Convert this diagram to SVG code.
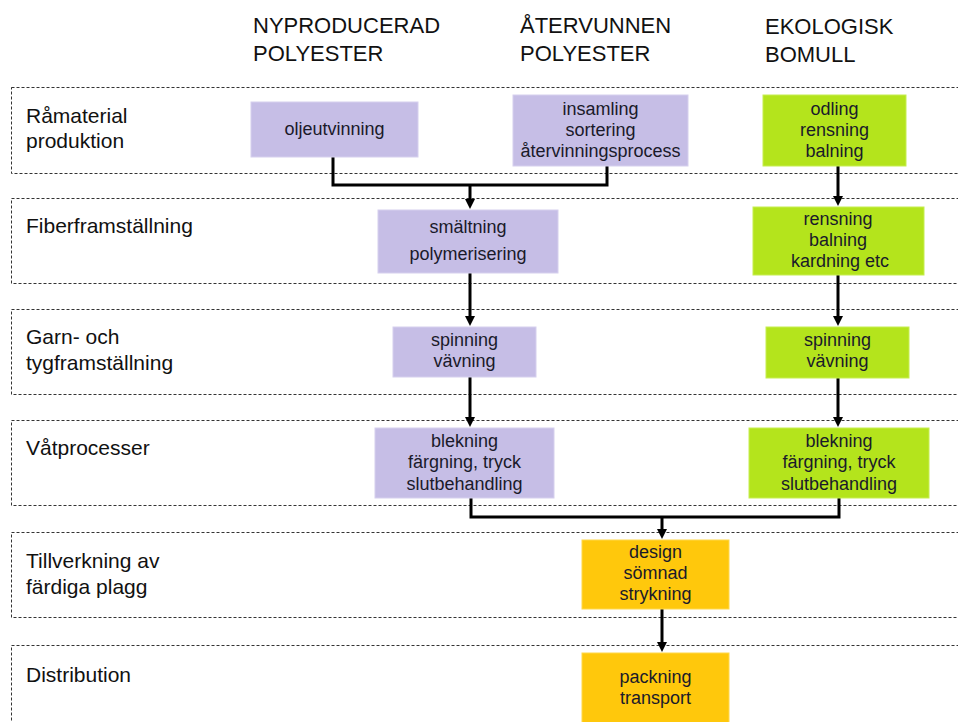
<svg xmlns="http://www.w3.org/2000/svg" width="958" height="722" viewBox="0 0 958 722">
<style>
.row{fill:none;stroke:#333;stroke-width:1;stroke-dasharray:3,2}
.lbl{font-family:"Liberation Sans",Arial,sans-serif;font-size:21px;fill:#111}
.hdr{font-family:"Liberation Sans",Arial,sans-serif;font-size:22px;fill:#111}
.bt{font-family:"Liberation Sans",Arial,sans-serif;font-size:18px;fill:#1a1a2a;text-anchor:middle}
.pur{fill:#c6bee6;stroke:#d6d0ee;stroke-width:1}
.grn{fill:#b4e41c;stroke:#c6ee50;stroke-width:1}
.org{fill:#ffc80c;stroke:#ffd84a;stroke-width:1}
.c{fill:none;stroke:#000;stroke-width:3}
</style>
<defs>
<marker id="ah" markerUnits="userSpaceOnUse" markerWidth="10" markerHeight="10" refX="2" refY="5" orient="auto">
<path d="M0,0 L10,5 L0,10 z" fill="#000"/>
</marker>
</defs>
<rect width="958" height="722" fill="#fff"/>
<g id="headers">
<text class="hdr" x="253" y="33">NYPRODUCERAD</text>
<text class="hdr" x="253" y="61">POLYESTER</text>
<text class="hdr" x="520" y="33">ÅTERVUNNEN</text>
<text class="hdr" x="520" y="61">POLYESTER</text>
<text class="hdr" x="765" y="34">EKOLOGISK</text>
<text class="hdr" x="765" y="62">BOMULL</text>
</g>
<g id="rows">
<g id="row1"><rect class="row" x="11.5" y="87.5" width="960" height="86"/><text class="lbl" x="26" y="123">Råmaterial</text><text class="lbl" x="26" y="148">produktion</text></g>
<g id="row2"><rect class="row" x="11.5" y="198.5" width="960" height="85"/><text class="lbl" x="26" y="233">Fiberframställning</text></g>
<g id="row3"><rect class="row" x="11.5" y="309.5" width="960" height="85"/><text class="lbl" x="26" y="344">Garn- och</text><text class="lbl" x="26" y="370">tygframställning</text></g>
<g id="row4"><rect class="row" x="11.5" y="420.5" width="960" height="85"/><text class="lbl" x="26" y="455">Våtprocesser</text></g>
<g id="row5"><rect class="row" x="11.5" y="532.5" width="960" height="85"/><text class="lbl" x="26" y="568">Tillverkning av</text><text class="lbl" x="26" y="594">färdiga plagg</text></g>
<g id="row6"><rect class="row" x="11.5" y="645.5" width="960" height="100"/><text class="lbl" x="26" y="682">Distribution</text></g>
</g>
<g id="connectors">
<path class="c" d="M333,157 V185 H607 V166"/>
<path class="c" d="M470,185 V201" marker-end="url(#ah)"/>
<path class="c" d="M838,166 V198" marker-end="url(#ah)"/>
<path class="c" d="M470,273 V318" marker-end="url(#ah)"/>
<path class="c" d="M838,275 V318" marker-end="url(#ah)"/>
<path class="c" d="M470,377 V419" marker-end="url(#ah)"/>
<path class="c" d="M838,378 V419" marker-end="url(#ah)"/>
<path class="c" d="M471,498 V517 H839 V498"/>
<path class="c" d="M662,517 V531" marker-end="url(#ah)"/>
<path class="c" d="M662,609 V644" marker-end="url(#ah)"/>
</g>
<g id="n-olje"><rect class="pur" x="251" y="102" width="167" height="55"/><text class="bt" x="334.5" y="135">oljeutvinning</text></g>
<g id="n-insamling"><rect class="pur" x="513" y="95" width="175" height="71"/><text class="bt" x="600.5" y="115">insamling</text><text class="bt" x="600.5" y="136">sortering</text><text class="bt" x="600.5" y="157">återvinningsprocess</text></g>
<g id="n-odling"><rect class="grn" x="763" y="95" width="143" height="71"/><text class="bt" x="834.5" y="115">odling</text><text class="bt" x="834.5" y="136">rensning</text><text class="bt" x="834.5" y="157">balning</text></g>
<g id="n-smaltning"><rect class="pur" x="378" y="210" width="180" height="63"/><text class="bt" x="468" y="233">smältning</text><text class="bt" x="468" y="260">polymerisering</text></g>
<g id="n-rensning"><rect class="grn" x="753" y="207" width="171" height="68"/><text class="bt" x="838" y="225">rensning</text><text class="bt" x="838" y="246">balning</text><text class="bt" x="840" y="267">kardning etc</text></g>
<g id="n-spin-p"><rect class="pur" x="393" y="327" width="143" height="50"/><text class="bt" x="464.5" y="346">spinning</text><text class="bt" x="464.5" y="367">vävning</text></g>
<g id="n-spin-g"><rect class="grn" x="766" y="327" width="143" height="51"/><text class="bt" x="837.5" y="346">spinning</text><text class="bt" x="837.5" y="367">vävning</text></g>
<g id="n-blek-p"><rect class="pur" x="375" y="428" width="179" height="70"/><text class="bt" x="464.5" y="447">blekning</text><text class="bt" x="464.5" y="468">färgning, tryck</text><text class="bt" x="464.5" y="490">slutbehandling</text></g>
<g id="n-blek-g"><rect class="grn" x="749" y="428" width="180" height="70"/><text class="bt" x="839" y="447">blekning</text><text class="bt" x="839" y="468">färgning, tryck</text><text class="bt" x="839" y="490">slutbehandling</text></g>
<g id="n-design"><rect class="org" x="582" y="540" width="147" height="69"/><text class="bt" x="655.5" y="558">design</text><text class="bt" x="655.5" y="579">sömnad</text><text class="bt" x="655.5" y="600">strykning</text></g>
<g id="n-packning"><rect class="org" x="582" y="653" width="147" height="80"/><text class="bt" x="655.5" y="683">packning</text><text class="bt" x="655.5" y="704">transport</text></g>
</svg>
